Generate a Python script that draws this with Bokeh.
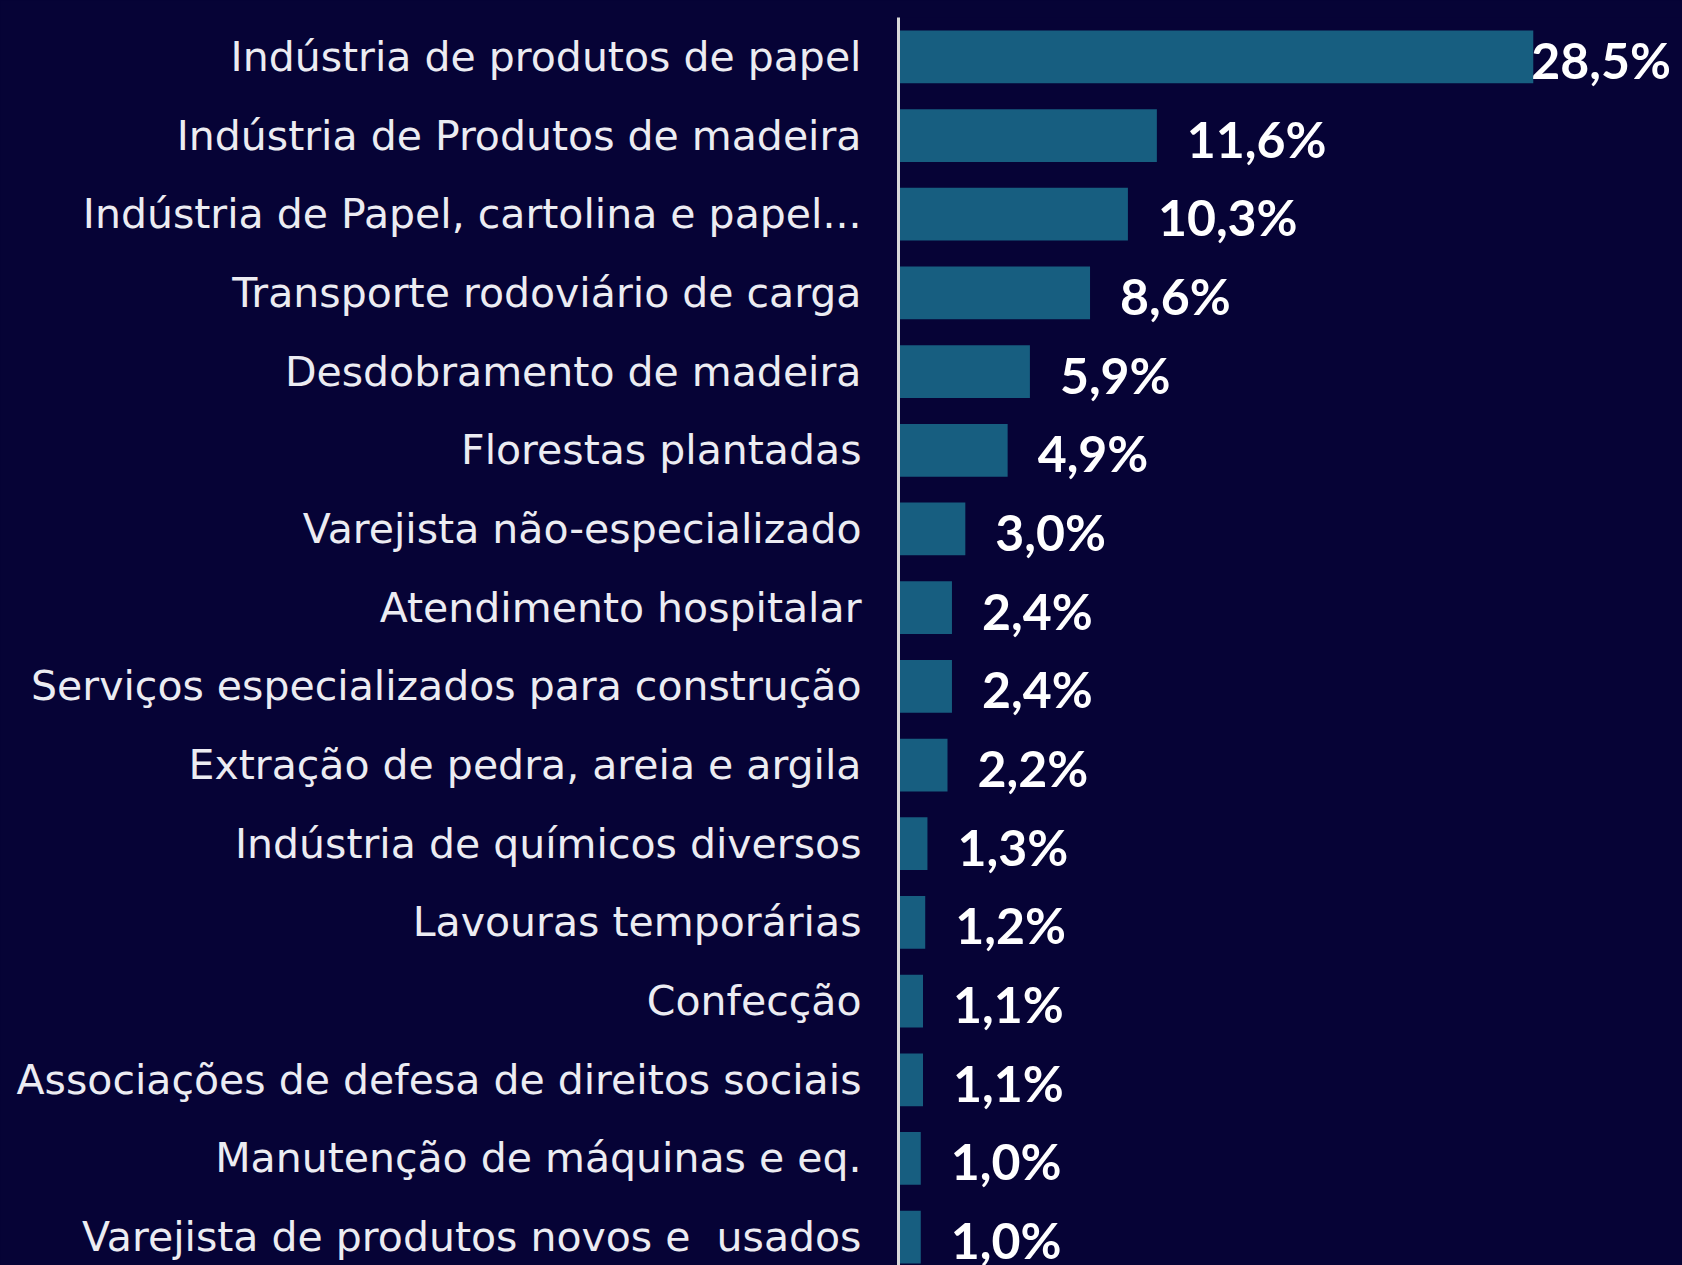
from bokeh.plotting import figure
from bokeh.models import ColumnDataSource, Range1d, FixedTicker
from bokeh.core.properties import value
from bokeh.embed import file_html
from bokeh.resources import INLINE

categories = [
    "Indústria de produtos de papel",
    "Indústria de Produtos de madeira",
    "Indústria de Papel, cartolina e papel...",
    "Transporte rodoviário de carga",
    "Desdobramento de madeira",
    "Florestas plantadas",
    "Varejista não-especializado",
    "Atendimento hospitalar",
    "Serviços especializados para construção",
    "Extração de pedra, areia e argila",
    "Indústria de químicos diversos",
    "Lavouras temporárias",
    "Confecção",
    "Associações de defesa de direitos sociais",
    "Manutenção de máquinas e eq.",
    "Varejista de produtos novos e\u00a0 usados",
]
shares = [28.5, 11.6, 10.3, 8.6, 5.9, 4.9, 3.0, 2.4, 2.4, 2.2, 1.3, 1.2, 1.1, 1.1, 1.0, 1.0]

BG = "#060336"
BAR = "#175e80"

n = len(categories)
rows = list(range(n))
labels = [f"{v:.1f}".replace(".", ",") + "%" for v in shares]
offsets = [-2 if v > 20 else 30 for v in shares]

src = ColumnDataSource(dict(y=rows, v=shares, lab=labels, off=offsets))

W, H = 1682, 1265
p = figure(width=W, height=H, output_backend="svg", toolbar_location=None,
           x_axis_type=None, x_range=Range1d(0, 35.2),
           y_range=Range1d(15.36, -0.5),
           background_fill_color=BG, border_fill_color=BG,
           min_border_left=898, min_border_right=0,
           min_border_top=17, min_border_bottom=0)
p.outline_line_color = None
p.grid.visible = False

p.hbar(y="y", right="v", left=0, height=0.67, source=src,
       fill_color=BAR, line_color=None)

p.text(x="v", y="y", text="lab", x_offset="off", y_offset=3, source=src,
       text_align="left", text_baseline="middle",
       text_font=value("Lato"), text_font_style="bold",
       text_font_size="50px", text_color="#ffffff")

ax = p.yaxis[0]
ax.ticker = FixedTicker(ticks=rows)
ax.major_label_overrides = {i: c for i, c in enumerate(categories)}
ax.major_tick_line_color = None
ax.minor_tick_line_color = None
ax.axis_line_color = "#d9d9d9"
ax.axis_line_width = 3
ax.major_label_standoff = 31
ax.major_label_text_font = "DejaVu Sans"
ax.major_label_text_font_size = "41px"
ax.major_label_text_color = "#ececf2"

html = file_html(p, INLINE).replace("<body>", '<body style="background-color:%s;">' % BG)
open("out.html", "w").write(html)
